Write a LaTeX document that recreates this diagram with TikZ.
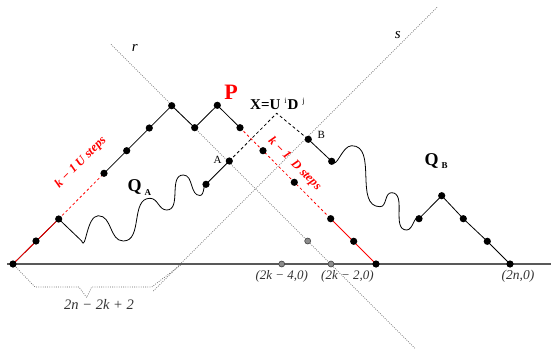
\documentclass[tikz,border=0pt]{standalone}
\usepackage{fontspec}
\setmainfont{Liberation Serif}
\begin{document}
\begin{tikzpicture}[x=1pt,y=-1pt,
  pth/.style={line width=0.8pt, black},
  rdash/.style={red, line width=0.8pt, dash pattern=on 2.5pt off 2.5pt},
  rsolid/.style={red, line width=0.8pt},
  kdash/.style={black, line width=0.8pt, dash pattern=on 3pt off 2.5pt},
  dotln/.style={black!60, line width=0.7pt, dash pattern=on 0.8pt off 1.4pt},
  axisln/.style={black!65, line width=1.5pt},
  dotmark/.style={fill=black},
  gdotmark/.style={fill=black!45, draw=black!75, line width=0.6pt},
  lab/.style={inner sep=0pt, font=\fontsize{13}{13}\selectfont\itshape, text=black!80},
  redlab/.style={inner sep=0pt, text=red, font=\fontsize{12.5}{12.5}\selectfont\bfseries\itshape},
]
\useasboundingbox (0,0) rectangle (551,351);

% lattice points
\coordinate (O) at (13,264);
\coordinate (U1) at (36,241);
\coordinate (U2) at (58.7,219);
\coordinate (U4) at (104,173.3);
\coordinate (U5) at (126.7,150.7);
\coordinate (U6) at (149.3,128);
\coordinate (T1) at (171.7,105.7);
\coordinate (V1) at (194.7,127.7);
\coordinate (T2) at (217.3,105.3);
\coordinate (D0) at (240,127.7);
\coordinate (D1) at (263,150.7);
\coordinate (D2) at (294.3,182.3);
\coordinate (D3) at (330.7,218.7);
\coordinate (D4) at (353.7,241.3);
\coordinate (E) at (376,264);
\coordinate (G1) at (281.7,264);
\coordinate (G2) at (331,264);
\coordinate (G3) at (307.7,241);
\coordinate (QA) at (206,184.3);
\coordinate (A) at (229.3,161);
\coordinate (Xp) at (276.7,113.3);
\coordinate (B) at (308.3,139.3);
\coordinate (B1) at (331.7,161.3);
\coordinate (F1) at (419,218.7);
\coordinate (F2) at (441.7,195.7);
\coordinate (F3) at (463.3,218.7);
\coordinate (F4) at (487.3,241.3);
\coordinate (N) at (510,264);
% line ends
\coordinate (ax0) at (7,264);
\coordinate (ax1) at (551,264);
\coordinate (r0) at (111,44.3);
\coordinate (r1) at (415,348.3);
\coordinate (s0) at (153.3,291);
\coordinate (s1) at (437.7,6.7);
\coordinate (br1) at (35,287);
\coordinate (br2) at (79,287);
\coordinate (br3) at (86.7,297.5);
\coordinate (br4) at (91.7,287);
\coordinate (br5) at (151.7,287);
\coordinate (br6) at (182,264);

% dotted guide lines
\draw[dotln] (r0) -- (r1);
\draw[dotln] (s0) -- (s1);
\draw[dotln] (O) -- (br1) -- (br2) -- (br3) -- (br4) -- (br5) -- (br6);

% axis
\draw[axisln] (ax0) -- (ax1);

% path P
\draw[pth] (O) -- (U2);
\draw[rsolid, shift={(-1,-1)}] (O) -- (U2);
\draw[rdash] (U2) -- (U4);
\draw[pth] (U4) -- (U5) -- (U6) -- (T1) -- (V1) -- (T2) -- (D0);
\draw[rdash] (D0) -- (D3);
\draw[rsolid] (D3) -- (E);

% Q_A
\draw[pth] (U2) -- (81.7,241) to[out=-70,in=180] (98.3,215.7)
  to[out=0,in=180] (123.3,241) to[out=0,in=180] (150,198.3)
  to[out=0,in=180] (166.7,210) to[out=0,in=180] (183.3,175)
  to[out=0,in=180] (200,195.5) to[out=0,in=120] (QA);
\draw[pth] (QA) -- (A);

% X path
\draw[kdash] (A) -- (Xp) -- (B);

% Q_B
\draw[pth] (B) -- (B1);
\draw[pth] (B1) to[out=-60,in=180] (351.7,145.7)
  to[out=0,in=180] (380,206.7) to[out=0,in=180] (391.5,192.7)
  to[out=0,in=180] (406.7,230) to[out=0,in=135] (F1);
\draw[pth] (F1) -- (F2) -- (F3) -- (F4) -- (N);

% dots
\foreach \p in {O,U1,U2,U4,U5,U6,T1,V1,T2,D0,D1,D2,D3,D4,E,QA,A,B,B1,F1,F2,F3,F4,N}
  \fill[dotmark] (\p) circle[radius=3.6pt];
\foreach \p in {G1,G2,G3}
  \filldraw[gdotmark] (\p) circle[radius=3pt];

% labels
\node[inner sep=0pt, text=red, font=\fontsize{22}{22}\selectfont\bfseries] (lP) at (231,92.5) {P};
\node[inner sep=0pt, anchor=base west, font=\fontsize{15}{15}\selectfont\bfseries] (lX) at (250,109.3)
  {X=U\hspace{4pt}\raisebox{6pt}{\fontsize{8}{8}\selectfont\mdseries i}\hspace{1pt}D\hspace{4pt}\raisebox{6pt}{\fontsize{8}{8}\selectfont\mdseries j}};
\node[inner sep=0pt, font=\fontsize{11}{11}\selectfont] (lA) at (217.5,159.7) {A};
\node[inner sep=0pt, font=\fontsize{11}{11}\selectfont] (lB) at (321.3,135.3) {B};
\node[inner sep=0pt, anchor=base west, font=\fontsize{18}{18}\selectfont\bfseries] (lQA) at (127.3,191.7)
  {Q\hspace{3pt}\raisebox{-4pt}{\fontsize{9}{9}\selectfont A}};
\node[inner sep=0pt, anchor=base west, font=\fontsize{18}{18}\selectfont\bfseries] (lQB) at (424.3,165)
  {Q\hspace{3pt}\raisebox{-3pt}{\fontsize{9}{9}\selectfont B}};
\node[inner sep=0pt, font=\fontsize{15}{15}\selectfont\itshape] (lr) at (134.7,47.5) {r};
\node[inner sep=0pt, font=\fontsize{15}{15}\selectfont\itshape] (ls) at (397.7,35) {s};
\node[redlab, rotate=45] (lU) at (80.8,162.5) {k − 1 U steps};
\node[redlab, rotate=-45] (lD) at (294.5,164) {k − 1\hspace{6pt}D steps};
\node[lab] (l1) at (281.8,276.3) {(2k − 4,0)};
\node[lab] (l2) at (347.4,276.5) {(2k − 2,0)};
\node[lab, font=\fontsize{13.5}{13.5}\selectfont\itshape] (l3) at (518,276.5) {(2n,0)};
\node[lab, font=\fontsize{14.5}{14.5}\selectfont\itshape] (l4) at (99,304.5) {2n − 2k + 2};
\end{tikzpicture}
\end{document}
